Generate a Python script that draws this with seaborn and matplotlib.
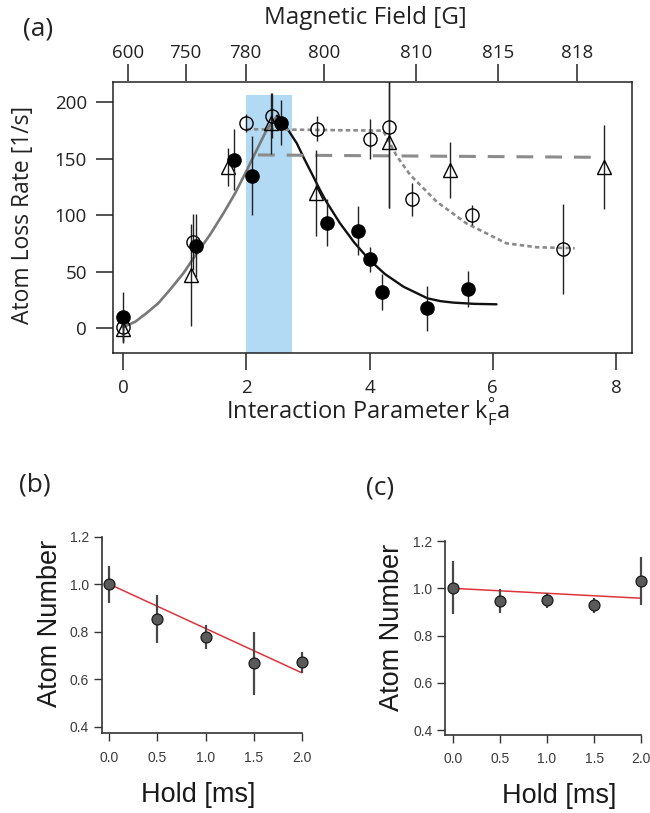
import matplotlib
matplotlib.use("Agg")
import matplotlib.pyplot as plt
import seaborn as sns

# ---------------- panel (a): loss rate vs interaction parameter ----------------
filled_kfa = [0.00, 1.18, 1.80, 2.09, 2.56, 3.31, 3.81, 4.00, 4.20, 4.94, 5.60]
filled_rate = [10, 73, 149, 135, 182, 93.5, 86.5, 61, 32, 17.5, 34.5]
filled_err = [22, 28, 27, 35, 20, 21, 22, 11, 16, 20, 16]

open_kfa = [0.00, 1.14, 2.00, 2.41, 3.15, 4.00, 4.31, 4.69, 5.67, 7.14]
open_rate = [1, 76.5, 181.5, 188, 176.5, 167.5, 178, 114, 100.5, 70]
open_err = [12, 25, 8, 20, 11, 18, 72, 15, 9, 40]

tri_kfa = [0.00, 1.11, 1.71, 2.40, 3.13, 4.31, 5.30, 7.81]
tri_rate = [-1, 47, 142.5, 181.5, 120, 165, 140, 142.5]
tri_err = [12, 45, 17, 27, 38, 59, 25, 37]

# fitted curves
rise_kfa = [0.00, 0.20, 0.38, 0.57, 0.76, 0.98, 1.18, 1.41, 1.63, 1.82,
            2.01, 2.17, 2.33, 2.50]
rise_rate = [0.9, 5.8, 13.3, 22, 33.9, 48.7, 64.9, 82.6, 101.8, 119.5,
             140, 157.8, 175.5, 188]
fall_kfa = [2.50, 2.65, 2.82, 2.95, 3.09, 3.20, 3.30, 3.52, 3.75, 4.00,
            4.25, 4.55, 4.94, 5.15, 5.36, 5.70, 6.06]
fall_rate = [188, 178, 163.7, 149, 134, 122, 112, 93, 76, 60.4,
             48, 36.8, 26.5, 24, 22.7, 21.6, 21.2]
open_fit_kfa = [2.00, 4.22, 4.44, 4.66, 5.09, 5.57, 6.22, 6.71, 7.33]
open_fit_rate = [176.2, 174.9, 152.5, 135.7, 112, 92.9, 75.2, 71.7, 70.8]
tri_fit_kfa = [2.19, 7.74]
tri_fit_rate = [153.4, 151.3]

# shaded resonance window
band_kfa = [2.00, 2.74]
band_top = 206.5

# magnetic field axis (top)
field_pos = [0.086, 1.017, 1.99, 3.26, 4.75, 6.08, 7.37]
field_labels = ["600", "750", "780", "800", "810", "815", "818"]

# ---------------- panels (b), (c): atom number vs hold time ----------------
hold_ms = [0.0, 0.5, 1.0, 1.5, 2.0]
b_number = [1.000, 0.853, 0.779, 0.667, 0.671]
b_err = [0.078, 0.102, 0.051, 0.132, 0.045]
c_number = [1.003, 0.946, 0.949, 0.928, 1.031]
c_err = [0.113, 0.052, 0.032, 0.031, 0.100]
fit_hold = [0.0, 2.0]
b_fit = [1.000, 0.627]
c_fit = [1.000, 0.958]

sns.set_theme(style="ticks")
plt.rcParams.update({
    "font.family": ["Open Sans", "DejaVu Sans"],
    "mathtext.fontset": "custom",
    "mathtext.rm": "Open Sans",
    "mathtext.it": "Open Sans:italic",
    "mathtext.bf": "Open Sans:bold",
    "axes.unicode_minus": False,
})

fig = plt.figure(figsize=(6.5, 8.13), dpi=100)
fig.patch.set_facecolor("white")

W, H = 650.0, 813.0
INK = "#222222"


def rect(left, top, right, bottom):
    return [left / W, 1 - bottom / H, (right - left) / W, (bottom - top) / H]


# ---------------- (a) ----------------
ax = fig.add_axes(rect(113.3, 81.5, 631.5, 353.0))
ylo, yhi = -21.9, 218.4
ax.set_xlim(-0.157, 8.25)
ax.set_ylim(ylo, yhi)

ax.fill_between(band_kfa, [ylo, ylo], [band_top, band_top],
                color="#b2daf4", lw=0, zorder=0)

sns.lineplot(x=rise_kfa, y=rise_rate, ax=ax, color="#787878", lw=1.9,
             sort=False, estimator=None, zorder=2)
sns.lineplot(x=fall_kfa, y=fall_rate, ax=ax, color="#111111", lw=1.7,
             sort=False, estimator=None, zorder=2)
sns.lineplot(x=open_fit_kfa, y=open_fit_rate, ax=ax, color="#8a8a8a", lw=1.9,
             sort=False, estimator=None, zorder=2)
ax.lines[-1].set_dashes((1.7, 1.2))
sns.lineplot(x=tri_fit_kfa, y=tri_fit_rate, ax=ax, color="#8c8c8c", lw=2.2,
             sort=False, estimator=None, zorder=2)
ax.lines[-1].set_dashes((5.5, 3.9))

ax.errorbar(tri_kfa, tri_rate, yerr=tri_err, fmt="^", ms=9.5, mfc="none",
            mec="black", mew=1.0, ecolor=INK, elinewidth=1.0,
            capsize=0, zorder=3)
ax.errorbar(open_kfa, open_rate, yerr=open_err, fmt="o", ms=9.5, mfc="none",
            mec="black", mew=1.0, ecolor=INK, elinewidth=1.0,
            capsize=0, zorder=3)
ax.errorbar(filled_kfa, filled_rate, yerr=filled_err, fmt="o", ms=9.5,
            mfc="black", mec="black", ecolor=INK, elinewidth=1.0,
            capsize=0, zorder=4)

ax.set_xticks([0, 2, 4, 6, 8])
ax.set_yticks([0, 50, 100, 150, 200])
ax.tick_params(axis="both", direction="out", length=12, width=1.1,
               labelsize=13.5, color=INK, labelcolor=INK, pad=7)
for s in ax.spines.values():
    s.set_linewidth(1.1)
    s.set_color(INK)

sec = ax.secondary_xaxis("top")
sec.set_xticks(field_pos, labels=field_labels)
sec.tick_params(direction="out", length=12, width=1.1, labelsize=13.5,
                color=INK, labelcolor=INK, pad=2)
sec.spines["top"].set_visible(False)

ax.set_xlabel("Interaction Parameter k$^{°}_{\\mathrm{F}}$a", fontsize=17,
              color=INK)
ax.xaxis.set_label_coords(0.4915, -0.217)
ax.xaxis.label.set_va("center")
ax.set_ylabel("Atom Loss Rate [1/s]", fontsize=16.5, color=INK)
ax.yaxis.set_label_coords(-0.174, 0.508)
ax.yaxis.label.set_va("center")
ax.text(0.4867, (353.0 - 18.0) / 271.5, "Magnetic Field [G]", fontsize=17.5,
        color=INK, ha="center", va="center", transform=ax.transAxes)


# ---------------- (b), (c) ----------------
def hold_panel(box, xlim, ylim, number, err, fit, ylab_xy, xlab_xy):
    a = fig.add_axes(box)
    a.set_xlim(*xlim)
    a.set_ylim(*ylim)
    sns.lineplot(x=fit_hold, y=fit, ax=a, color="#e0343c", lw=1.1, zorder=2)
    eb = a.errorbar(hold_ms, number, yerr=err, fmt="none", ecolor="#484848",
                    elinewidth=1.6, capsize=0, zorder=3)
    for child in eb.get_children():
        child.set_clip_on(False)
    sns.scatterplot(x=hold_ms, y=number, ax=a, s=62, color="#5a5a5a",
                    edgecolor="#1a1a1a", linewidth=0.9, zorder=4, clip_on=False)
    sns.despine(ax=a)
    for side in ("left", "bottom"):
        a.spines[side].set_linewidth(1.2)
        a.spines[side].set_color("#333333")
    a.set_xticks(hold_ms, labels=[f"{v:.1f}" for v in hold_ms])
    a.set_yticks([0.4, 0.6, 0.8, 1.0, 1.2],
                 labels=["0.4", "0.6", "0.8", "1.0", "1.2"])
    a.tick_params(direction="out", length=5.5, width=1.0, color="#333333",
                  labelsize=10, labelcolor="#3a3a3a")
    a.tick_params(axis="x", pad=7)
    a.tick_params(axis="y", pad=3.5)
    for lab in a.get_xticklabels() + a.get_yticklabels():
        lab.set_fontfamily(["Liberation Sans", "DejaVu Sans"])
    a.set_ylabel("Atom Number", fontsize=19.5, color="#1a1a1a",
                 fontfamily=["Liberation Sans", "DejaVu Sans"])
    a.yaxis.set_label_coords(*ylab_xy)
    a.yaxis.label.set_va("center")
    a.set_xlabel("Hold [ms]", fontsize=19.5, color="#1a1a1a",
                 fontfamily=["Liberation Sans", "DejaVu Sans"])
    a.xaxis.set_label_coords(*xlab_xy)
    a.xaxis.label.set_va("center")
    return a


hold_panel(rect(101.7, 536.7, 301.7, 733.3), (-0.08, 2.0), (0.372, 1.2),
           b_number, b_err, b_fit, (-0.2585, 0.5585), (0.4815, -0.314))
hold_panel(rect(445.0, 541.0, 641.3, 735.0), (-0.082, 2.0), (0.38, 1.2),
           c_number, c_err, c_fit, (-0.2715, 0.554), (0.581, -0.314))

# panel letters
fig.text(38.5 / W, 1 - 28.5 / H, "(a)", fontsize=19, ha="center", va="center",
         color=INK)
fig.text(35 / W, 1 - 485 / H, "(b)", fontsize=19, ha="center", va="center",
         color=INK)
fig.text(380 / W, 1 - 488 / H, "(c)", fontsize=19, ha="center", va="center",
         color=INK)

fig.savefig("out.png", dpi=100, facecolor="white")
